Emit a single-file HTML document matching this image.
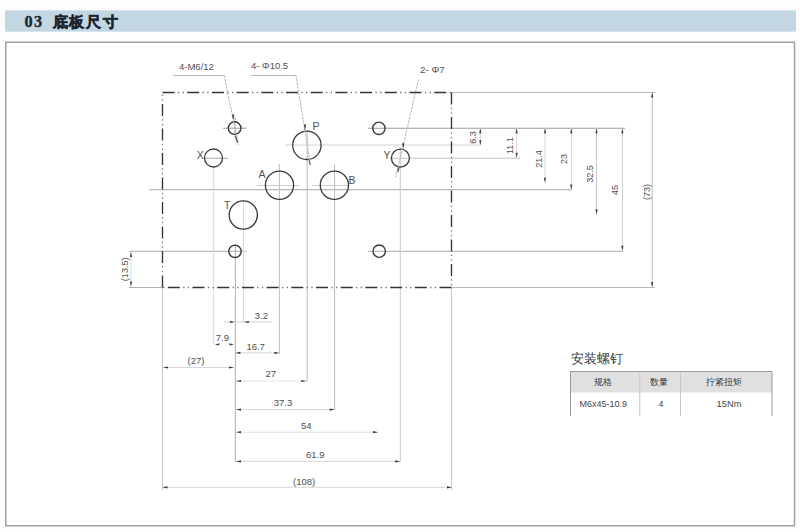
<!DOCTYPE html>
<html><head><meta charset="utf-8">
<style>
html,body{margin:0;padding:0;background:#fff;width:800px;height:532px;overflow:hidden;}
svg{display:block;font-family:"Liberation Sans",sans-serif;}
</style></head><body>
<svg width="800" height="532" viewBox="0 0 800 532">
<rect x="0" y="0" width="800" height="532" fill="#fdfdfd"/>

<rect x="5" y="10.3" width="791" height="21.4" fill="#c3d7e3"/>
<text x="24.6" y="26.9" font-size="16.3" fill="#1d2732" font-weight="bold" font-family="Liberation Serif, serif" stroke="#1d2732" stroke-width="0.35" letter-spacing="1.3">03</text>
<text x="52.6" y="26.7" font-size="14.6" fill="#1d2732" font-weight="bold" letter-spacing="1.9" stroke="#1d2732" stroke-width="0.55">底板尺寸</text>
<rect x="5.75" y="42.25" width="788.75" height="483.5" fill="#fff" stroke="#a0a0a0" stroke-width="1.5"/>
<line x1="451.5" y1="92.5" x2="655" y2="92.5" stroke="#b8b8b8" stroke-width="1.1" />
<line x1="451.5" y1="287.5" x2="655" y2="287.5" stroke="#b8b8b8" stroke-width="1.1" />
<line x1="129" y1="287.5" x2="162.5" y2="287.5" stroke="#b0b0b0" stroke-width="1.1" />
<line x1="162.5" y1="287.5" x2="162.5" y2="490" stroke="#c8c8c8" stroke-width="1" />
<line x1="451.5" y1="287.5" x2="451.5" y2="490" stroke="#c8c8c8" stroke-width="1" />
<line x1="223" y1="128.2" x2="246.5" y2="128.2" stroke="#9a9a9a" stroke-width="1" />
<line x1="368" y1="128.3" x2="625" y2="128.3" stroke="#9c9c9c" stroke-width="1.1" />
<line x1="285" y1="145" x2="480" y2="145" stroke="#d2d2d2" stroke-width="1" />
<line x1="204" y1="158.3" x2="228" y2="158.3" stroke="#a8a8a8" stroke-width="1" />
<line x1="390" y1="158.2" x2="520" y2="158.2" stroke="#c4c4c4" stroke-width="1" />
<line x1="257" y1="185.5" x2="300" y2="185.5" stroke="#cfcfcf" stroke-width="1" />
<line x1="312" y1="185.5" x2="350" y2="185.5" stroke="#cfcfcf" stroke-width="1" />
<line x1="149" y1="189.7" x2="572" y2="189.7" stroke="#b8b8b8" stroke-width="1.2" />
<line x1="129" y1="251.3" x2="246" y2="251.3" stroke="#acacac" stroke-width="1.1" />
<line x1="368" y1="251.3" x2="623" y2="251.3" stroke="#acacac" stroke-width="1.1" />
<line x1="213.7" y1="167" x2="213.7" y2="344" stroke="#d8d8d8" stroke-width="1" />
<line x1="235" y1="117" x2="235" y2="137" stroke="#a8a8a8" stroke-width="1" />
<line x1="235.4" y1="244" x2="235.4" y2="462" stroke="#b0b0b0" stroke-width="1" />
<line x1="243.5" y1="200" x2="243.5" y2="322" stroke="#d8d8d8" stroke-width="1" />
<line x1="279.4" y1="164" x2="279.4" y2="353.5" stroke="#c0c0c0" stroke-width="1" />
<line x1="307.2" y1="130" x2="307.2" y2="382" stroke="#b8b8b8" stroke-width="1" />
<line x1="334.6" y1="164" x2="334.6" y2="410" stroke="#bcbcbc" stroke-width="1" />
<line x1="400.3" y1="147" x2="400.3" y2="462" stroke="#c8c8c8" stroke-width="1" />
<path d="M162.5 92.5 H451.5" fill="none" stroke="#353535" stroke-width="1.35" stroke-dasharray="12 12.70"/>
<path d="M162.5 92.5 H451.5" fill="none" stroke="#707070" stroke-width="1.3" stroke-dasharray="1.3 3.37 1.3 18.73" stroke-dashoffset="-15.37"/>
<path d="M451.5 92.5 V287.5" fill="none" stroke="#353535" stroke-width="1.35" stroke-dasharray="12 12.50"/>
<path d="M451.5 92.5 V287.5" fill="none" stroke="#707070" stroke-width="1.3" stroke-dasharray="1.3 3.30 1.3 18.60" stroke-dashoffset="-15.30"/>
<path d="M451.5 287.5 H162.5" fill="none" stroke="#353535" stroke-width="1.35" stroke-dasharray="12 12.70"/>
<path d="M451.5 287.5 H162.5" fill="none" stroke="#707070" stroke-width="1.3" stroke-dasharray="1.3 3.37 1.3 18.73" stroke-dashoffset="-15.37"/>
<path d="M162.5 287.5 V92.5" fill="none" stroke="#353535" stroke-width="1.35" stroke-dasharray="12 12.50"/>
<path d="M162.5 287.5 V92.5" fill="none" stroke="#707070" stroke-width="1.3" stroke-dasharray="1.3 3.30 1.3 18.60" stroke-dashoffset="-15.30"/>
<circle cx="234.6" cy="128.1" r="6.3" fill="none" stroke="#3a3a3a" stroke-width="1.4"/>
<circle cx="235" cy="251.3" r="6.2" fill="none" stroke="#3a3a3a" stroke-width="1.4"/>
<circle cx="378.9" cy="128.3" r="6.2" fill="none" stroke="#3a3a3a" stroke-width="1.4"/>
<circle cx="379.2" cy="251.2" r="6.2" fill="none" stroke="#3a3a3a" stroke-width="1.4"/>
<circle cx="213.5" cy="158" r="9.0" fill="none" stroke="#3a3a3a" stroke-width="1.3"/>
<circle cx="400.4" cy="158.1" r="9.0" fill="none" stroke="#3a3a3a" stroke-width="1.3"/>
<circle cx="306.9" cy="145.3" r="14.2" fill="none" stroke="#3a3a3a" stroke-width="1.3"/>
<circle cx="279.5" cy="185.3" r="14.1" fill="none" stroke="#3a3a3a" stroke-width="1.3"/>
<circle cx="334.4" cy="185.3" r="14.1" fill="none" stroke="#3a3a3a" stroke-width="1.3"/>
<circle cx="243.3" cy="215" r="14.1" fill="none" stroke="#3a3a3a" stroke-width="1.3"/>
<text x="312.6" y="129.6" font-size="10.5" fill="#505050" text-anchor="start" font-weight="normal" >P</text>
<text x="196.8" y="159.1" font-size="10.5" fill="#505050" text-anchor="start" font-weight="normal" >X</text>
<text x="383.5" y="158.5" font-size="10.5" fill="#505050" text-anchor="start" font-weight="normal" >Y</text>
<text x="258.5" y="178" font-size="10.5" fill="#505050" text-anchor="start" font-weight="normal" >A</text>
<text x="348.6" y="183.8" font-size="10.5" fill="#505050" text-anchor="start" font-weight="normal" >B</text>
<text x="224" y="208.5" font-size="10.5" fill="#505050" text-anchor="start" font-weight="normal" >T</text>
<line x1="173" y1="75.6" x2="224.2" y2="75.6" stroke="#b4b4b4" stroke-width="1" />
<line x1="224.2" y1="75.6" x2="238.4" y2="145" stroke="#b4b4b4" stroke-width="1" stroke-dasharray="2.5 1"/>
<polygon points="233.2,120.6 232.1,114.6 234.29999999999998,114.6" fill="#333"/>
<line x1="235.4" y1="136" x2="237.6" y2="142.5" stroke="#555" stroke-width="1.4" />
<line x1="251" y1="75.5" x2="296" y2="75.5" stroke="#b4b4b4" stroke-width="1" />
<line x1="296" y1="75.5" x2="310.5" y2="165" stroke="#b4b4b4" stroke-width="1" stroke-dasharray="2.5 1"/>
<polygon points="305,130.6 303.9,124.6 306.1,124.6" fill="#333"/>
<line x1="309" y1="159.5" x2="310" y2="165" stroke="#777" stroke-width="1.3" />
<line x1="418.5" y1="79.5" x2="395.6" y2="178" stroke="#b4b4b4" stroke-width="1" stroke-dasharray="2.5 1"/>
<polygon points="403.2,149.3 402.09999999999997,143.3 404.3,143.3" fill="#333"/>
<line x1="398.8" y1="167.5" x2="397.8" y2="172" stroke="#555" stroke-width="1.4" />
<text x="179" y="70.4" font-size="9.5" fill="#505050" text-anchor="start" font-weight="normal" >4-M6/12</text>
<text x="251" y="69.1" font-size="9.5" fill="#505050" text-anchor="start" font-weight="normal" >4- Φ10.5</text>
<text x="420" y="72.6" font-size="9.8" fill="#505050" text-anchor="start" font-weight="normal" >2- Φ7</text>
<line x1="480.3" y1="128.3" x2="480.3" y2="145.3" stroke="#d6d6d6" stroke-width="1" />
<polygon points="480.3,128.3 479.2,133.3 481.40000000000003,133.3" fill="#3a3a3a"/>
<polygon points="480.3,145.3 479.2,140.3 481.40000000000003,140.3" fill="#3a3a3a"/>
<text x="0" y="0" font-size="9.1" fill="#505050" text-anchor="middle" transform="translate(472.4 137.4) rotate(-90)" dy="3.28">6.3</text>
<line x1="516.6" y1="128.3" x2="516.6" y2="157.8" stroke="#d6d6d6" stroke-width="1" />
<polygon points="516.6,128.3 515.5,133.3 517.7,133.3" fill="#3a3a3a"/>
<polygon points="516.6,157.8 515.5,152.8 517.7,152.8" fill="#3a3a3a"/>
<text x="0" y="0" font-size="9.1" fill="#505050" text-anchor="middle" transform="translate(510 145.5) rotate(-90)" dy="3.28">11.1</text>
<line x1="545" y1="128.3" x2="545" y2="182.8" stroke="#d6d6d6" stroke-width="1" />
<polygon points="545,128.3 543.9,133.3 546.1,133.3" fill="#3a3a3a"/>
<polygon points="545,182.8 543.9,177.8 546.1,177.8" fill="#3a3a3a"/>
<text x="0" y="0" font-size="9.1" fill="#505050" text-anchor="middle" transform="translate(538.6 159) rotate(-90)" dy="3.28">21.4</text>
<line x1="571.3" y1="128.3" x2="571.3" y2="189.5" stroke="#d6d6d6" stroke-width="1" />
<polygon points="571.3,128.3 570.1999999999999,133.3 572.4,133.3" fill="#3a3a3a"/>
<polygon points="571.3,189.5 570.1999999999999,184.5 572.4,184.5" fill="#3a3a3a"/>
<text x="0" y="0" font-size="9.1" fill="#505050" text-anchor="middle" transform="translate(563.8 159) rotate(-90)" dy="3.28">23</text>
<line x1="596.5" y1="128.3" x2="596.5" y2="214.3" stroke="#c8c8c8" stroke-width="1" />
<polygon points="596.5,128.3 595.4,133.3 597.6,133.3" fill="#3a3a3a"/>
<polygon points="596.5,214.3 595.4,209.3 597.6,209.3" fill="#3a3a3a"/>
<text x="0" y="0" font-size="9.1" fill="#505050" text-anchor="middle" transform="translate(589.3 174) rotate(-90)" dy="3.28">32.5</text>
<line x1="622.4" y1="128.3" x2="622.4" y2="250.8" stroke="#cccccc" stroke-width="1" />
<polygon points="622.4,128.3 621.3,133.3 623.5,133.3" fill="#3a3a3a"/>
<polygon points="622.4,250.8 621.3,245.8 623.5,245.8" fill="#3a3a3a"/>
<text x="0" y="0" font-size="9.1" fill="#505050" text-anchor="middle" transform="translate(614.6 190) rotate(-90)" dy="3.28">45</text>
<line x1="652.2" y1="92.4" x2="652.2" y2="287" stroke="#bdbdbd" stroke-width="1" />
<polygon points="652.2,92.4 651.1,97.4 653.3000000000001,97.4" fill="#3a3a3a"/>
<polygon points="652.2,287 651.1,282 653.3000000000001,282" fill="#3a3a3a"/>
<text x="0" y="0" font-size="9.1" fill="#505050" text-anchor="middle" transform="translate(647 192) rotate(-90)" dy="3.28">(73)</text>
<line x1="131" y1="252" x2="131" y2="286.6" stroke="#dcdcdc" stroke-width="1" />
<polygon points="131,252 129.9,257 132.1,257" fill="#3a3a3a"/>
<polygon points="131,286.6 129.9,281.6 132.1,281.6" fill="#3a3a3a"/>
<text x="0" y="0" font-size="9.1" fill="#505050" text-anchor="middle" transform="translate(125.2 269.3) rotate(-90)" dy="3.28">(13.5)</text>
<line x1="224" y1="322" x2="272" y2="322" stroke="#cfcfcf" stroke-width="1" />
<polygon points="235,322 230,320.9 230,323.1" fill="#3a3a3a"/>
<polygon points="243.8,322 248.8,320.9 248.8,323.1" fill="#3a3a3a"/>
<text x="254.8" y="319" font-size="9.5" fill="#505050" text-anchor="start" font-weight="normal" >3.2</text>
<polygon points="214.8,344.4 219.3,343.29999999999995 219.3,345.5" fill="#3a3a3a"/>
<polygon points="234,344.4 229.5,343.29999999999995 229.5,345.5" fill="#3a3a3a"/>
<text x="215.8" y="341" font-size="9.5" fill="#505050" text-anchor="start" font-weight="normal" >7.9</text>
<line x1="235.4" y1="352.9" x2="279.3" y2="352.9" stroke="#d6d6d6" stroke-width="1" />
<polygon points="235.4,352.9 240.4,351.79999999999995 240.4,354.0" fill="#3a3a3a"/>
<polygon points="279.3,352.9 274.3,351.79999999999995 274.3,354.0" fill="#3a3a3a"/>
<text x="246.4" y="349.6" font-size="9.5" fill="#505050" text-anchor="start" font-weight="normal" >16.7</text>
<line x1="163" y1="367.5" x2="234" y2="367.5" stroke="#d6d6d6" stroke-width="1" />
<polygon points="163,367.5 168,366.4 168,368.6" fill="#3a3a3a"/>
<polygon points="234,367.5 229,366.4 229,368.6" fill="#3a3a3a"/>
<text x="187.5" y="364.2" font-size="9.5" fill="#505050" text-anchor="start" font-weight="normal" >(27)</text>
<line x1="236" y1="381" x2="306.3" y2="381" stroke="#e4e4e4" stroke-width="1" />
<polygon points="236,381 241,379.9 241,382.1" fill="#3a3a3a"/>
<polygon points="306.3,381 301.3,379.9 301.3,382.1" fill="#3a3a3a"/>
<text x="265.5" y="376.8" font-size="9.5" fill="#505050" text-anchor="start" font-weight="normal" >27</text>
<line x1="236" y1="409.6" x2="334.6" y2="409.6" stroke="#d6d6d6" stroke-width="1" />
<polygon points="236,409.6 241,408.5 241,410.70000000000005" fill="#3a3a3a"/>
<polygon points="334.6,409.6 329.6,408.5 329.6,410.70000000000005" fill="#3a3a3a"/>
<text x="273.8" y="405.8" font-size="9.5" fill="#505050" text-anchor="start" font-weight="normal" >37.3</text>
<line x1="236" y1="432.2" x2="378" y2="432.2" stroke="#e0e0e0" stroke-width="1" />
<polygon points="236,432.2 241,431.09999999999997 241,433.3" fill="#3a3a3a"/>
<polygon points="378,432.2 373,431.09999999999997 373,433.3" fill="#3a3a3a"/>
<text x="301" y="428.8" font-size="9.5" fill="#505050" text-anchor="start" font-weight="normal" >54</text>
<line x1="236" y1="461.4" x2="400.2" y2="461.4" stroke="#d6d6d6" stroke-width="1" />
<polygon points="236,461.4 241,460.29999999999995 241,462.5" fill="#3a3a3a"/>
<polygon points="400.2,461.4 395.2,460.29999999999995 395.2,462.5" fill="#3a3a3a"/>
<text x="306" y="458.4" font-size="9.5" fill="#505050" text-anchor="start" font-weight="normal" >61.9</text>
<line x1="162.5" y1="487.3" x2="452" y2="487.3" stroke="#d6d6d6" stroke-width="1" />
<polygon points="162.5,487.3 167.5,486.2 167.5,488.40000000000003" fill="#3a3a3a"/>
<polygon points="452,487.3 447,486.2 447,488.40000000000003" fill="#3a3a3a"/>
<text x="293" y="484.6" font-size="9.5" fill="#505050" text-anchor="start" font-weight="normal" >(108)</text>
<text x="570.6" y="363.4" font-size="12.6" fill="#383838" letter-spacing="0.2">安装螺钉</text>
<rect x="570.5" y="371.5" width="201.5" height="21" fill="#e0e0e0"/>
<path d="M570.5 416 L570.5 371.5 L772 371.5 L772 416" fill="none" stroke="#9a9a9a" stroke-width="1"/>
<line x1="639.75" y1="371.5" x2="639.75" y2="416" stroke="#c8c8c8" stroke-width="1" />
<line x1="680.5" y1="371.5" x2="680.5" y2="416" stroke="#c8c8c8" stroke-width="1" />
<text x="602.6" y="385.3" font-size="9" fill="#3a3a3a" text-anchor="middle">规格</text>
<text x="659.2" y="385.3" font-size="9" fill="#3a3a3a" text-anchor="middle">数量</text>
<text x="723.6" y="385.3" font-size="9.1" fill="#3a3a3a" text-anchor="middle">拧紧扭矩</text>
<text x="579.4" y="407" font-size="9" fill="#444">M6x45-10.9</text>
<text x="661" y="407" font-size="9" fill="#444" text-anchor="middle">4</text>
<text x="716.6" y="407" font-size="9.3" fill="#444">15Nm</text>
</svg>
</body></html>
